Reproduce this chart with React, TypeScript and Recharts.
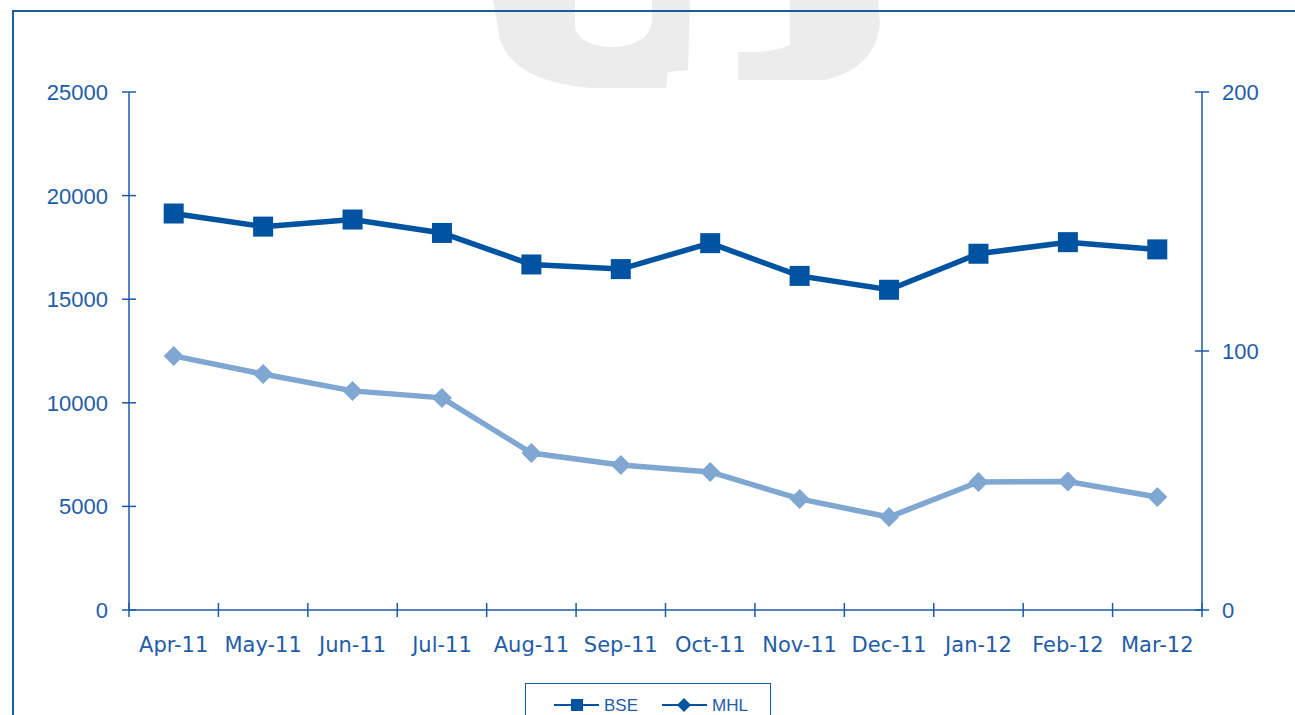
import React from 'react';
import { LineChart, Line, XAxis, YAxis, Legend } from 'recharts';

const months = ['Apr-11', 'May-11', 'Jun-11', 'Jul-11', 'Aug-11', 'Sep-11', 'Oct-11', 'Nov-11', 'Dec-11', 'Jan-12', 'Feb-12', 'Mar-12'];
const bse = [19136, 18503, 18845, 18197, 16676, 16453, 17705, 16123, 15455, 17194, 17753, 17404];
const mhl = [98.1, 91.1, 84.6, 81.9, 60.6, 56.0, 53.3, 42.9, 35.9, 49.4, 49.6, 43.6];
const leftTicks = [0, 5000, 10000, 15000, 20000, 25000];
const rightTicks = [0, 100, 200];

const AXIS = '#1c5aa6';
const TEXT = '#1f5ca8';
const DARK = '#0053a0';
const LIGHT = '#7fa7d1';

// x runs 0..12, each month sits in the middle of its slot
const data = months.map((m, i) => ({ x: i + 0.5, month: m, bse: bse[i], mhl: mhl[i] }));
const xTicks: number[] = [];
for (let i = 0; i <= months.length * 2; i++) xTicks.push(i / 2);

const TS = 7;

function XTick(props: any) {
    const { x, y, payload } = props;
    const v = payload.value;
    if (Number.isInteger(v)) {
        const axisY = y - 20 - TS;
        return <line x1={x} x2={x} y1={axisY - TS} y2={axisY + TS} stroke={AXIS} strokeWidth={1.5} />;
    }
    return (
        <text x={x} y={y} dy="0.72em" textAnchor="middle" fill={TEXT} fontSize={21} fontFamily="DejaVu Sans">
            {months[Math.floor(v)]}
        </text>
    );
}

function LeftTick(props: any) {
    const { x, y, payload } = props;
    return (
        <g>
            <line x1={x + 14} x2={x + 14 + 2 * TS} y1={y} y2={y} stroke={AXIS} strokeWidth={1.5} />
            <text x={x} y={y} dy="0.36em" textAnchor="end" fill={TEXT} fontSize={22} fontFamily="Liberation Sans">
                {payload.value}
            </text>
        </g>
    );
}

function RightTick(props: any) {
    const { x, y, payload } = props;
    return (
        <g>
            <line x1={x - 13 - 2 * TS} x2={x - 13} y1={y} y2={y} stroke={AXIS} strokeWidth={1.5} />
            <text x={x} y={y} dy="0.36em" textAnchor="start" fill={TEXT} fontSize={22} fontFamily="Liberation Sans">
                {payload.value}
            </text>
        </g>
    );
}

function SquareDot(props: any) {
    const { cx, cy } = props;
    return <rect x={cx - 10} y={cy - 10} width={20} height={20} fill={DARK} />;
}

function DiamondDot(props: any) {
    const { cx, cy } = props;
    return <polygon points={`${cx},${cy - 10} ${cx + 10},${cy} ${cx},${cy + 10} ${cx - 10},${cy}`} fill={LIGHT} />;
}

function LegendBox() {
    return (
        <div style={{ width: 246, height: 40, border: `1px solid ${AXIS}`, boxSizing: 'border-box', background: '#fff' }}>
            <svg width={246} height={40}>
                <line x1={28} x2={73} y1={21} y2={21} stroke={DARK} strokeWidth={2} />
                <rect x={45} y={15} width={12} height={12} fill={DARK} />
                <text x={78} y={21} dy="0.36em" fill={TEXT} fontSize={17} fontFamily="Liberation Sans">BSE</text>
                <line x1={136} x2={181} y1={21} y2={21} stroke={DARK} strokeWidth={2} />
                <polygon points="158,14 165,21 158,28 151,21" fill={DARK} />
                <text x={186} y={21} dy="0.36em" fill={TEXT} fontSize={17} fontFamily="Liberation Sans">MHL</text>
            </svg>
        </div>
    );
}

export default function App() {
    return (
        <div style={{ position: 'absolute', left: 0, top: 0, width: 1295, height: 715, overflow: 'hidden', background: '#fff' }}>
            {/* faded logo behind the chart */}
            <svg width={1295} height={715} style={{ position: 'absolute', left: 0, top: 0 }}>
                <path d="M493,0 L575,0 L575,28 Q580,46 612,47 Q648,46 652,22 L652,0 L690,0 L688,70 L668,72 L666,88 L590,88 Q515,82 500,40 Z" fill="#ebeceb" />
                <path d="M734,0 L790,0 L790,45 Q780,50 760,52 L738,52 L738,80 L825,80 Q875,68 880,25 L878,0 L734,0 Z M738,0 L738,52" fill="#ebeceb" />
            </svg>
            <div style={{ position: 'absolute', left: 12, top: 10, width: 1300, height: 720, borderLeft: `2px solid ${AXIS}`, borderTop: `2px solid ${AXIS}` }} />
            <div style={{ position: 'absolute', left: 0, top: 0 }}>
                <LineChart width={1295} height={715} data={data} margin={{ top: 92, right: 13, bottom: 0, left: 49 }}>
                    <XAxis
                        dataKey="x"
                        type="number"
                        domain={[0, 12]}
                        ticks={xTicks}
                        interval={0}
                        height={65}
                        tickSize={TS}
                        tickMargin={20}
                        tickLine={false}
                        axisLine={{ stroke: AXIS, strokeWidth: 1.5 }}
                        tick={<XTick />}
                    />
                    <YAxis
                        yAxisId="left"
                        domain={[0, 25000]}
                        ticks={leftTicks}
                        interval={0}
                        width={80}
                        tickSize={TS}
                        tickMargin={14}
                        tickLine={false}
                        axisLine={{ stroke: AXIS, strokeWidth: 1.5 }}
                        tick={<LeftTick />}
                    />
                    <YAxis
                        yAxisId="right"
                        orientation="right"
                        domain={[0, 200]}
                        ticks={rightTicks}
                        interval={0}
                        width={80}
                        tickSize={TS}
                        tickMargin={13}
                        tickLine={false}
                        axisLine={{ stroke: AXIS, strokeWidth: 1.5 }}
                        tick={<RightTick />}
                    />
                    <Line yAxisId="right" type="linear" dataKey="mhl" name="MHL" stroke={LIGHT} strokeWidth={5.5} dot={<DiamondDot />} isAnimationActive={false} />
                    <Line yAxisId="left" type="linear" dataKey="bse" name="BSE" stroke={DARK} strokeWidth={5.5} dot={<SquareDot />} isAnimationActive={false} />
                    <Legend content={<LegendBox />} wrapperStyle={{ position: 'absolute', left: 525, top: 683, width: 246, height: 40 }} />
                </LineChart>
            </div>
        </div>
    );
}
